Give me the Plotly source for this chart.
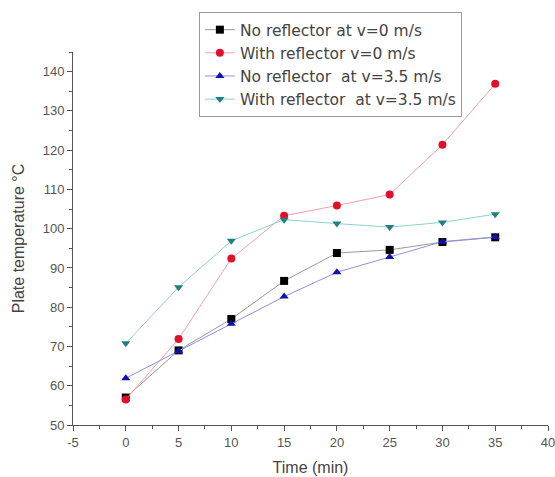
import plotly.graph_objects as go

time_min = [0, 5, 10, 15, 20, 25, 30, 35]
no_refl_v0 = [57, 69, 77, 86.7, 93.8, 94.6, 96.6, 97.8]
with_refl_v0 = [56.5, 71.9, 92.4, 103.3, 105.9, 108.7, 121.4, 136.9]
no_refl_v35 = [61.9, 68.8, 75.8, 82.7, 88.9, 92.8, 96.7, 97.9]
with_refl_v35 = [70.8, 85.1, 96.9, 102.3, 101.3, 100.4, 101.6, 103.7]

x_tickvals = [-5, 0, 5, 10, 15, 20, 25, 30, 35, 40]
x_ticktext = ["-5", "0", "5", "10", "15", "20", "25", "30", "35", "40"]

names = ["No reflector at v=0 m/s", "With reflector v=0 m/s",
         "No reflector\u00a0 at v=3.5 m/s", "With reflector\u00a0 at v=3.5 m/s"]
series = [no_refl_v0, with_refl_v0, no_refl_v35, with_refl_v35]
marker_colors = ["#000000", "#e0102a", "#1010b0", "#227f80"]
line_colors = ["#9a9a9a", "#f4a0b0", "#9090e0", "#90d0d0"]
symbols = ["square", "circle", "triangle-up", "triangle-down"]

fig = go.Figure()
for n, s, mc, lc, sym in zip(names, series, marker_colors, line_colors, symbols):
    fig.add_trace(go.Scatter(x=time_min, y=s, name=n, mode="lines+markers",
                             line=dict(color=lc, width=1),
                             marker=dict(symbol=sym, color=mc, size=8)))

axis_common = dict(showline=True, linecolor="#555", linewidth=1, ticks="outside",
                   ticklen=5, tickcolor="#555", showgrid=False, zeroline=False,
                   tickfont=dict(size=13, color="#555"), mirror=False, automargin=False,
                   ticklabeloverflow="allow",
                   minor=dict(ticks="outside", ticklen=3, tickcolor="#555"))

fig.update_layout(
    width=555, height=477,
    margin=dict(l=73, r=7, t=52, b=52),
    paper_bgcolor="white", plot_bgcolor="white",
    font=dict(family="Arial, Liberation Sans, sans-serif", color="#444"),
    xaxis=dict(range=[-5, 40], tickvals=x_tickvals, ticktext=x_ticktext,
               title=dict(text="Time (min)", font=dict(size=16), standoff=13),
               **axis_common),
    yaxis=dict(range=[50, 145], dtick=10, tick0=50,
               title=dict(text="Plate temperature °C", font=dict(size=16), standoff=14),
               **axis_common),
    legend=dict(x=0.265, y=1.107, xanchor="left", yanchor="top", bordercolor="#999", borderwidth=1,
                bgcolor="white", font=dict(size=15.5, color="#444", family="DejaVu Sans, sans-serif"),
                tracegroupgap=0),
    showlegend=True,
)
fig.update_xaxes(minor=dict(tickvals=[-2.5, 2.5, 7.5, 12.5, 17.5, 22.5, 27.5, 32.5, 37.5]))
fig.update_yaxes(minor=dict(dtick=5))

fig.write_html("out.html", config={"displayModeBar": False},
               post_script="document.body.style.margin='0';document.body.style.overflow='hidden';")
